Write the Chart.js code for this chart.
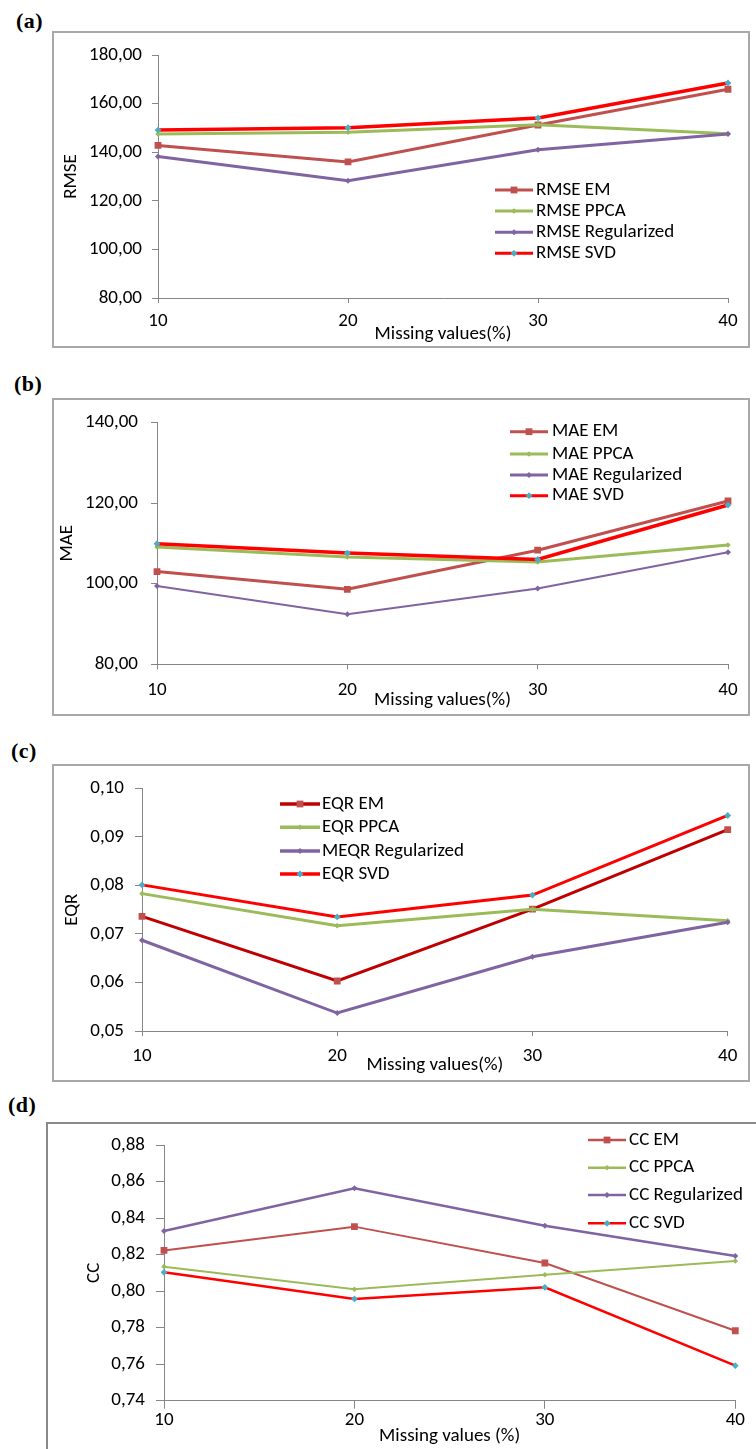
<!DOCTYPE html>
<html><head><meta charset="utf-8">
<script src="https://cdn.jsdelivr.net/npm/chart.js@4.4.0/dist/chart.umd.min.js"></script>
<style>
html,body{margin:0;padding:0;background:#fff;}
body{width:756px;height:1449px;position:relative;overflow:hidden;}
canvas{position:absolute;}
.box{position:absolute;box-sizing:border-box;pointer-events:none;}
.lab{position:absolute;font-family:"Liberation Serif","Times New Roman",serif;font-weight:bold;font-size:22px;line-height:22px;letter-spacing:0.5px;color:#000;}
</style></head><body>
<div class="lab" style="left:16px;top:10px">(a)</div>
<div class="lab" style="left:14px;top:373px">(b)</div>
<div class="lab" style="left:11px;top:740px">(c)</div>
<div class="lab" style="left:8px;top:1094px">(d)</div>
<canvas id="ca"></canvas><canvas id="cb"></canvas><canvas id="cc"></canvas><canvas id="cd"></canvas>
<div class="box" id="ba"></div><div class="box" id="bb"></div><div class="box" id="bc"></div><div class="box" id="bd"></div>
<script>
// ---- data ----
const categories = ['10', '20', '30', '40'];
const xTitle = 'Missing values(%)';
const xTitleD = 'Missing values (%)';

const rmseNames = ['RMSE EM', 'RMSE PPCA', 'RMSE Regularized', 'RMSE SVD'];
const rmseEM   = [142.8, 136.0, 151.2, 165.9];
const rmsePPCA = [147.5, 148.2, 151.3, 147.6];
const rmseReg  = [138.2, 128.3, 141.0, 147.5];
const rmseSVD  = [149.1, 150.1, 154.1, 168.5];

const maeNames = ['MAE EM', 'MAE PPCA', 'MAE Regularized', 'MAE SVD'];
const maeEM   = [103.0, 98.6, 108.3, 120.5];
const maePPCA = [109.1, 106.6, 105.4, 109.6];
const maeReg  = [99.4, 92.4, 98.8, 107.8];
const maeSVD  = [109.9, 107.6, 106.0, 119.5];

const eqrNames = ['EQR EM', 'EQR PPCA', 'MEQR Regularized', 'EQR SVD'];
const eqrEM   = [0.0736, 0.0603, 0.0751, 0.0915];
const eqrPPCA = [0.0783, 0.0717, 0.0751, 0.0727];
const eqrReg  = [0.0687, 0.0537, 0.0653, 0.0724];
const eqrSVD  = [0.0801, 0.0735, 0.0780, 0.0944];

const ccNames = ['CC EM', 'CC PPCA', 'CC Regularized', 'CC SVD'];
const ccEM   = [0.8223, 0.8353, 0.8154, 0.7783];
const ccPPCA = [0.8134, 0.8010, 0.8090, 0.8165];
const ccReg  = [0.8329, 0.8563, 0.8358, 0.8192];
const ccSVD  = [0.8103, 0.7957, 0.8021, 0.7592];

// y tick ranges [min, max, step]
const rmseTicks = [80, 180, 20];
const maeTicks  = [80, 140, 20];
const eqrTicks  = [0.05, 0.10, 0.01];
const ccTicks   = [0.74, 0.88, 0.02];

// ---- styling ----
const FONT = {family: 'Carlito,"Open Sans","Noto Sans",sans-serif', size: 19};
const AXIS = '#868686';
const C_EM = '#C0504D', C_PPCA = '#9BBB59', C_REG = '#8064A2', C_SVD = '#FF0000', C_SVDM = '#4BACC6';

function fmt(v) { return Number(v).toFixed(2).replace('.', ','); }

function makeDatasets(names, vals, widths, emLine) {
  const lineCols = [emLine || C_EM, C_PPCA, C_REG, C_SVD];
  const markCols = [C_EM, C_PPCA, C_REG, C_SVDM];
  const styles = ['rect', 'rectRot', 'rectRot', 'rectRot'];
  const radii = [4.8, 2.8, 3.0, 3.4];
  return names.map((n, i) => ({
    label: n, data: vals[i],
    borderColor: lineCols[i], borderWidth: widths[i],
    pointStyle: styles[i], pointRadius: radii[i],
    pointBackgroundColor: markCols[i], pointBorderWidth: 0,
    pointHoverRadius: radii[i], tension: 0, fill: false,
    order: 4 - i
  }));
}

function legendPlugin(L, box) {
  return {
    id: 'inl',
    afterDraw(chart) {
      const ctx = chart.ctx;
      ctx.save();
      chart.data.datasets.forEach((ds, i) => {
        const y = L.rows[i] - box.t;
        const x0 = L.x0 - box.l, x1 = L.x1 - box.l;
        ctx.strokeStyle = ds.borderColor;
        ctx.lineWidth = L.lw || ds.borderWidth;
        ctx.beginPath(); ctx.moveTo(x0, y); ctx.lineTo(x1, y); ctx.stroke();
        ctx.fillStyle = ds.pointBackgroundColor;
        Chart.helpers.drawPoint(ctx, {pointStyle: ds.pointStyle, radius: ds.pointRadius, rotation: 0, borderWidth: 0}, (x0 + x1) / 2, y);
        ctx.fillStyle = '#000';
        ctx.font = FONT.size + 'px ' + FONT.family;
        ctx.textBaseline = 'middle';
        ctx.textAlign = 'left';
        ctx.fillText(ds.label, L.tx - box.l, y);
      });
      ctx.restore();
    }
  };
}

function build(id, boxId, box, canvasH, plot, yTitle, ticks, datasets, lay, legend, xt, border) {
  const cv = document.getElementById(id);
  cv.width = box.w; cv.height = canvasH;
  cv.style.left = box.l + 'px'; cv.style.top = box.t + 'px';
  cv.style.width = box.w + 'px'; cv.style.height = canvasH + 'px';
  const b = document.getElementById(boxId);
  b.style.left = box.l + 'px'; b.style.top = box.t + 'px';
  b.style.width = box.w + 'px'; b.style.height = box.h + 'px';
  b.style.border = border;
  const yW = plot.l - box.l;
  const xH = box.t + canvasH - plot.b;
  new Chart(cv, {
    type: 'line',
    data: {labels: categories, datasets: datasets},
    options: {
      responsive: false, animation: false, devicePixelRatio: 1,
      layout: {padding: {left: 0, top: plot.t - box.t, right: box.l + box.w - plot.r, bottom: 0}},
      plugins: {legend: {display: false}, tooltip: {enabled: false}},
      scales: {
        x: {
          type: 'category', offset: false,
          grid: {display: true, drawOnChartArea: false, drawTicks: true, tickLength: lay.xtl, color: AXIS, lineWidth: 1},
          border: {display: true, color: AXIS, width: 1},
          ticks: {font: FONT, color: '#000', padding: lay.xtp, maxRotation: 0, autoSkip: false},
          title: {display: true, text: xt, font: FONT, color: '#000', padding: {top: 0, bottom: lay.xtt}},
          afterFit(s) { s.height = xH; }
        },
        y: {
          type: 'linear', min: ticks[0], max: ticks[1],
          grid: {display: true, drawOnChartArea: false, drawTicks: true, tickLength: lay.ytl, color: AXIS, lineWidth: 1},
          border: {display: true, color: AXIS, width: 1},
          ticks: {font: FONT, color: '#000', padding: lay.ytp, stepSize: ticks[2], callback: v => fmt(v)},
          title: {display: true, text: yTitle, font: FONT, color: '#000', padding: {top: lay.ytt, bottom: 0}},
          afterFit(s) { s.width = yW; }
        }
      }
    },
    plugins: [legendPlugin(legend, box)]
  });
}

const BORD = '2px solid #a8a8a8';

// (a)
const boxA = {l: 52, t: 31, w: 698, h: 317};
build('ca', 'ba', boxA, 317, {l: 158, r: 728, t: 55, b: 298}, 'RMSE', rmseTicks,
  makeDatasets(rmseNames, [rmseEM, rmsePPCA, rmseReg, rmseSVD], [3, 3, 3, 3.5]),
  {xtl: 5, xtp: 7, xtt: 2.3, ytl: 6, ytp: 10, ytt: 7.6},
  {rows: [190, 211, 232.3, 253.3], x0: 495, x1: 533, tx: 536, lw: 3}, xTitle, BORD);

// (b)
const boxB = {l: 52, t: 398, w: 698, h: 318};
build('cb', 'bb', boxB, 318, {l: 157, r: 728, t: 421.7, b: 664.3}, 'MAE', maeTicks,
  makeDatasets(maeNames, [maeEM, maePPCA, maeReg, maeSVD], [3, 3, 2, 3.5]),
  {xtl: 5, xtp: 10, xtt: 4.3, ytl: 6, ytp: 13, ytt: 3.6},
  {rows: [431.7, 454, 475, 495.7], x0: 510, x1: 548, tx: 552, lw: 3}, xTitle, BORD);

// (c)
const boxC = {l: 52, t: 764, w: 698, h: 318};
build('cc', 'bc', boxC, 318, {l: 142, r: 727.7, t: 788.3, b: 1031}, 'EQR', eqrTicks,
  makeDatasets(eqrNames, [eqrEM, eqrPPCA, eqrReg, eqrSVD], [3, 3, 3, 3], '#C00000'),
  {xtl: 5, xtp: 9.3, xtt: 5.3, ytl: 7, ytp: 11, ytt: 8.6},
  {rows: [804, 827.3, 851, 874], x0: 280, x1: 320, tx: 322, lw: 3.5}, xTitle, BORD);

// (d)
const boxD = {l: 46, t: 1122, w: 715, h: 340};
build('cd', 'bd', boxD, 327, {l: 164, r: 735.3, t: 1145, b: 1400.7}, 'CC', ccTicks,
  makeDatasets(ccNames, [ccEM, ccPPCA, ccReg, ccSVD], [2, 2, 2.5, 2.5]),
  {xtl: 8, xtp: 0, xtt: 1.1, ytl: 8, ytp: 11, ytt: 37.1},
  {rows: [1140, 1167.7, 1195, 1223.3], x0: 588, x1: 626, tx: 629, lw: 2.5}, xTitleD, '2px solid #8a8a8a');
</script>
</body></html>
